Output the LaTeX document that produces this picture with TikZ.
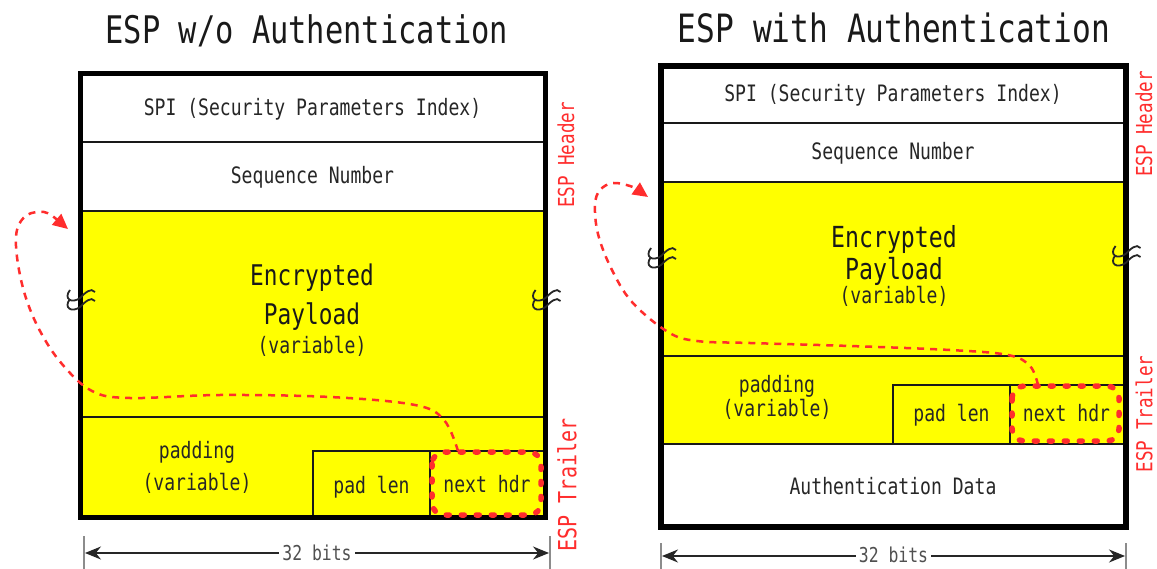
\documentclass[tikz,border=0pt]{standalone}
\usepackage{fontspec}
\setmainfont{DejaVu Sans}
\newfontfamily\mono[FakeStretch=0.8]{DejaVu Sans Mono}
\usetikzlibrary{arrows.meta}
\definecolor{espyellow}{RGB}{255,255,0}
\definecolor{espred}{RGB}{255,45,45}
\definecolor{dimgray}{RGB}{80,80,80}
\tikzset{
 txt/.style={font=\mono\fontsize{22.6}{26}\selectfont, anchor=base, inner sep=0pt, text=black!85},
 big/.style={font=\mono\fontsize{28.5}{32}\selectfont, anchor=base, inner sep=0pt, text=black!90},
 ttl/.style={font=\mono\fontsize{38}{42}\selectfont, anchor=base, inner sep=0pt, text=black!90},
 side/.style={font=\mono\fontsize{22}{26}\selectfont, text=espred, rotate=90, inner sep=0pt},
 rowline/.style={line width=1.8pt, draw=black!90},
 nh/.style={draw=espred, line width=5.5pt, line cap=round, dash pattern=on 3pt off 12pt, rounded corners=12pt},
 ptr/.style={draw=espred, line width=2.5pt, dash pattern=on 7pt off 6pt, -{Triangle[length=15pt,width=14pt]}},
 dim/.style={line width=1.6pt, draw=black!85, {Stealth[length=16pt,width=13pt]}-{Stealth[length=16pt,width=13pt]}},
 bar/.style={line width=2.2pt, draw=black!45},
 dimtxt/.style={font=\mono\fontsize{20.5}{24}\selectfont, text=dimgray, fill=white, inner xsep=3pt, inner ysep=1pt},
 brk/.pic={
   \draw[line width=1.8pt, black!85]
     (-10,-6) .. controls (-17,3) and (-8,8) .. (0,2) .. controls (5,-3) and (11,-9) .. (15,-4)
     (-10,3) .. controls (-17,12) and (-8,17) .. (0,11) .. controls (5,6) and (11,0) .. (15,5);
 }
}
\begin{document}
\begin{tikzpicture}[x=1pt,y=-1pt]
\useasboundingbox[fill=white] (0,0) rectangle (1157,569);

% ================= LEFT: ESP w/o Authentication =================
\node[ttl] (titleL) at (307,44) {ESP w/o Authentication};
\fill[white] (80,74) rectangle (545.5,211);
\fill[espyellow] (80,211) rectangle (545.5,517.5);
\draw[rowline] (80,142) -- (545.5,142);
\draw[rowline] (80,211) -- (545.5,211);
\draw[rowline] (80,417) -- (545.5,417);
\draw[rowline] (313,517.5) -- (313,451) -- (545.5,451);
\draw[rowline] (430,451) -- (430,517.5);
\draw[line width=5pt] (80,74) rectangle (545.5,517.5);

\node[txt] (spiL) at (312.5,116) {SPI (Security Parameters Index)};
\node[txt] (seqL) at (312.5,184) {Sequence Number};
\node[big] (encL) at (312,286) {Encrypted};
\node[big] (payL) at (312,325) {Payload};
\node[txt] (varL) at (312,354) {(variable)};
\node[txt] (padL) at (197,458) {padding};
\node[txt] (padvL) at (197,490) {(variable)};
\node[txt] (plenL) at (371.5,493) {pad len};
\node[txt] (nhL) at (487,492) {next hdr};
\draw[nh] (432,452) rectangle (541,515);

\pic at (80,296) {brk};
\pic at (545.5,296) {brk};

\node[side] (hdrL) at (566,155) {ESP Header};
\node[side, font=\mono\fontsize{25}{28}\selectfont] (trlL) at (567,485) {ESP Trailer};

\coordinate (startL) at (458,451);
\coordinate (endL) at (68,229);
\draw[ptr] plot[smooth, tension=0.6] coordinates {(startL) (444,420) (415,405) (330,397) (220,395) (130,398) (92,391) (62,364) (40,331) (25,295) (17,257) (17,230) (27,215) (44,212) (55,218)} -- (endL);

\coordinate (b1L) at (84,536);
\coordinate (b2L) at (550,536);
\draw[bar] (b1L) -- ++(0,33);
\draw[bar] (b2L) -- ++(0,33);
\coordinate (a1L) at (85,553);
\coordinate (a2L) at (549,553);
\draw[dim] (a1L) -- (a2L);
\node[dimtxt] (bitsL) at (317,553) {32 bits};

% ================= RIGHT: ESP with Authentication =================
\node[ttl, font=\mono\fontsize{39}{43}\selectfont] (titleR) at (894,43) {ESP with Authentication};
\fill[white] (661,66) rectangle (1125.5,527);
\fill[espyellow] (661,182) rectangle (1125.5,444);
\draw[rowline] (661,123) -- (1125.5,123);
\draw[rowline] (661,182) -- (1125.5,182);
\draw[rowline] (661,356) -- (1125.5,356);
\draw[rowline] (661,444) -- (1125.5,444);
\draw[rowline] (893,444) -- (893,385) -- (1125.5,385);
\draw[rowline] (1010,385) -- (1010,444);
\draw[line width=6pt] (661,66) rectangle (1125.5,527);

\node[txt] (spiR) at (893,102) {SPI (Security Parameters Index)};
\node[txt] (seqR) at (893,160) {Sequence Number};
\node[big, font=\mono\fontsize{29}{32}\selectfont] (encR) at (894,248) {Encrypted};
\node[big, font=\mono\fontsize{29}{32}\selectfont] (payR) at (894,280) {Payload};
\node[txt] (varR) at (894,304) {(variable)};
\node[txt] (padR) at (777,392) {padding};
\node[txt] (padvR) at (777,417) {(variable)};
\node[txt] (plenR) at (951.5,421) {pad len};
\node[txt] (nhR) at (1066.5,421) {next hdr};
\node[txt] (authR) at (893,494) {Authentication Data};
\draw[nh] (1012,386) rectangle (1119,441);

\pic at (661,254) {brk};
\pic at (1125.5,252) {brk};

\node[side] (hdrR) at (1144,124) {ESP Header};
\node[side] (trlR) at (1144,414) {ESP Trailer};

\coordinate (startR) at (1038,385);
\coordinate (endR) at (648,197);
\draw[ptr] plot[smooth, tension=0.6] coordinates {(startR) (1030,366) (1008,355) (950,350) (850,346) (750,343) (697,341) (668,332) (632,302) (611,268) (598,234) (595,205) (600,190) (613,183) (630,186) (638,190)} -- (endR);

\coordinate (b1R) at (661,543);
\coordinate (b2R) at (1126,543);
\draw[bar] (b1R) -- ++(0,26);
\draw[bar] (b2R) -- ++(0,26);
\coordinate (a1R) at (662,556);
\coordinate (a2R) at (1125,556);
\draw[dim] (a1R) -- (a2R);
\node[dimtxt, anchor=base] (bitsR) at (893.5,562) {32 bits};
\end{tikzpicture}
\end{document}
